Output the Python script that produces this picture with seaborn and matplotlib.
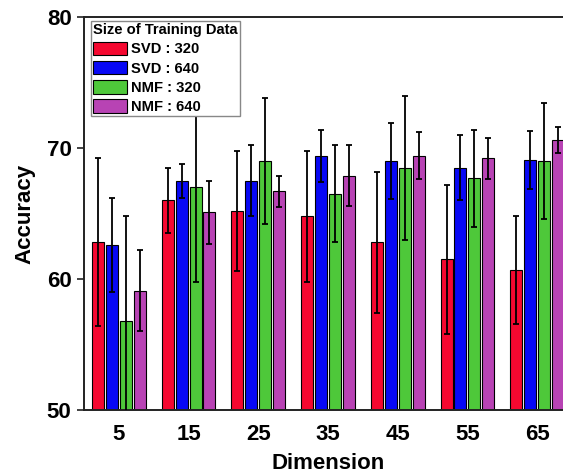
import matplotlib
matplotlib.use("Agg")
import matplotlib.pyplot as plt
import numpy as np
import pandas as pd
import seaborn as sns

# Embedding dimensions on the x axis
dimensions = ["5", "15", "25", "35", "45", "55", "65"]

# Method / training-set size combinations
series = ["SVD : 320", "SVD : 640", "NMF : 320", "NMF : 640"]

# Mean accuracy per dimension
svd_320 = [62.8, 66.0, 65.2, 64.8, 62.8, 61.5, 60.7]
svd_640 = [62.6, 67.5, 67.5, 69.4, 69.0, 68.5, 69.1]
nmf_320 = [56.8, 67.0, 69.0, 66.5, 68.5, 67.7, 69.0]
nmf_640 = [59.1, 65.1, 66.7, 67.9, 69.4, 69.2, 70.6]

# Standard deviation per dimension
svd_320_sd = [6.4, 2.5, 4.6, 5.0, 5.4, 5.7, 4.1]
svd_640_sd = [3.6, 1.3, 2.7, 2.0, 2.9, 2.5, 2.2]
nmf_320_sd = [8.0, 7.2, 4.8, 3.7, 5.5, 3.7, 4.4]
nmf_640_sd = [3.1, 2.4, 1.2, 2.3, 1.8, 1.6, 1.0]

colors = ["#F50830", "#0808F5", "#4EC83A", "#B843B4"]

means = [svd_320, svd_640, nmf_320, nmf_640]
sds = [svd_320_sd, svd_640_sd, nmf_320_sd, nmf_640_sd]

df = pd.DataFrame({
    "Dimension": np.tile(dimensions, len(series)),
    "Series": np.repeat(series, len(dimensions)),
    "Accuracy": np.concatenate(means),
})

sns.set_style("white")
plt.rcParams["font.family"] = ["Liberation Sans", "DejaVu Sans"]
plt.rcParams["font.weight"] = "bold"
plt.rcParams["text.color"] = "black"
plt.rcParams["axes.labelcolor"] = "black"
plt.rcParams["xtick.color"] = "black"
plt.rcParams["ytick.color"] = "black"

fig = plt.figure(figsize=(5.63, 4.74), dpi=100)
ax = fig.add_axes([84 / 563, 64 / 474, 488 / 563, 393 / 474])

sns.barplot(
    data=df, x="Dimension", y="Accuracy", hue="Series",
    order=dimensions, hue_order=series, palette=colors, saturation=1,
    width=0.8, gap=0.14, edgecolor="black", linewidth=0.8,
    errorbar=None, ax=ax,
)

# Standard-deviation whiskers centred on each bar
for container, sd in zip(ax.containers, sds):
    xs = [p.get_x() + p.get_width() / 2 for p in container]
    ys = [p.get_height() for p in container]
    ax.errorbar(xs, ys, yerr=sd, fmt="none", ecolor="black",
                elinewidth=1.3, capsize=2.0, capthick=1.3, zorder=3)

ax.set_ylim(50, 80)
ax.set_xlim(-0.5, 6.5)
ax.set_yticks([50, 60, 70, 80])

for side in ["left", "top", "bottom"]:
    ax.spines[side].set_visible(True)
    ax.spines[side].set_color("#222222")
    ax.spines[side].set_linewidth(1.4)
ax.spines["right"].set_visible(False)

ax.tick_params(axis="y", direction="out", length=5, width=1.2, pad=4,
               labelsize=16, color="#222222", left=True)
ax.tick_params(axis="x", length=0, pad=10, labelsize=16)
for lbl in ax.get_xticklabels() + ax.get_yticklabels():
    lbl.set_fontweight("bold")

ax.set_xlabel("Dimension", fontsize=16, fontweight="bold", labelpad=6)
ax.set_ylabel("Accuracy", fontsize=16, fontweight="bold", labelpad=8)

handles, labels = ax.get_legend_handles_labels()
leg = ax.legend(
    handles, labels, title="Size of Training Data",
    loc="upper left", bbox_to_anchor=(0.014, 0.99), borderaxespad=0,
    title_fontproperties={"weight": "bold", "size": 10.6},
    prop={"weight": "bold", "size": 10.6},
    frameon=True, fancybox=False, edgecolor="#888888", framealpha=1,
    borderpad=0.15, labelspacing=0.3, handlelength=2.3, handleheight=1.05,
    handletextpad=0.3, alignment="left",
)
leg.get_frame().set_linewidth(1.0)
leg.set_zorder(5)

fig.savefig("out.png", dpi=100)
